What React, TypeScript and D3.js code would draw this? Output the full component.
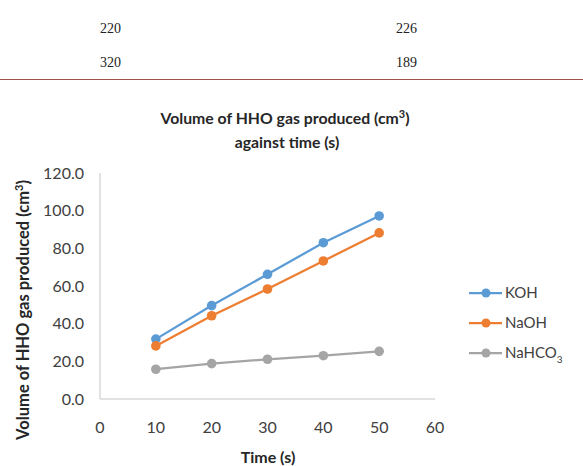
import React from 'react';
import * as d3 from 'd3';

// time points (s)
const times = [10, 20, 30, 40, 50];
// volume of HHO gas produced (cm3) per electrolyte
const kohValues = [31.8, 49.6, 66.2, 83.0, 97.2];
const naohValues = [28.2, 44.2, 58.4, 73.3, 88.2];
const nahco3Values = [15.8, 18.8, 21.1, 23.0, 25.3];

const seriesNames = ['KOH', 'NaOH', 'NaHCO3'];
const seriesColors = ['#5B9BD5', '#ED7D31', '#A5A5A5'];

const xTicks = [0, 10, 20, 30, 40, 50, 60];
const yTicks = [0, 20, 40, 60, 80, 100, 120];

// rows of the table above the figure
const tableRows = [
  ['220', '226'],
  ['320', '189'],
];

const W = 583;
const H = 466;
const FONT = 'Lato, "Open Sans", sans-serif';

const App = () => {
  const x = d3.scaleLinear().domain([0, 60]).range([100, 435]);
  const y = d3.scaleLinear().domain([0, 120]).range([399, 173]);

  const series = [kohValues, naohValues, nahco3Values].map((vals, i) => ({
    name: seriesNames[i],
    color: seriesColors[i],
    points: times.map((t, j) => [t, vals[j]] as [number, number]),
  }));

  const line = d3.line<[number, number]>()
    .x(d => x(d[0]))
    .y(d => y(d[1]));

  const legendY = d3.scalePoint<string>().domain(seriesNames).range([293, 353]);

  return (
    <svg width={W} height={H} style={{ position: 'absolute', left: 0, top: 0, background: '#fff' }}>
      {/* table tail */}
      {tableRows.map((row, i) => (
        <g key={i} fontFamily='"Liberation Serif", "Times New Roman", serif' fontSize={14} fill="#222">
          <text x={100} y={33 + i * 34}>{row[0]}</text>
          <text x={396} y={33 + i * 34}>{row[1]}</text>
        </g>
      ))}
      <line x1={0} x2={W} y1={79.5} y2={79.5} stroke="#A0524C" strokeWidth={1.2} />

      {/* title */}
      <text x={285} y={124} textAnchor="middle" fontFamily={FONT} fontWeight={700} fontSize={15.8} fill="#262626">
        Volume of HHO gas produced  (cm
        <tspan fontSize={11} dy={-6}>3</tspan>
        <tspan dy={6}>)</tspan>
      </text>
      <text x={287} y={148} textAnchor="middle" fontFamily={FONT} fontWeight={700} fontSize={15.8} fill="#262626">
        against time (s)
      </text>

      {/* axes */}
      <line x1={x(0)} x2={x(0)} y1={y(120)} y2={y(0)} stroke="#D9D9D9" strokeWidth={1.5} />
      <line x1={x(0)} x2={x(60)} y1={y(0)} y2={y(0)} stroke="#D9D9D9" strokeWidth={1.5} />

      {yTicks.map(t => (
        <text key={t} x={84} y={y(t)} dy="0.35em" textAnchor="end" fontFamily={FONT} fontSize={16} fill="#404040">
          {d3.format('.1f')(t)}
        </text>
      ))}
      {xTicks.map(t => (
        <text key={t} x={x(t)} y={427} dy="0.35em" textAnchor="middle" fontFamily={FONT} fontSize={16} fill="#404040">
          {t}
        </text>
      ))}

      <text transform="translate(29,310) rotate(-90)" textAnchor="middle" fontFamily={FONT} fontWeight={700} fontSize={16.5} fill="#262626">
        Volume of HHO gas produced (cm
        <tspan fontSize={11} dy={-6}>3</tspan>
        <tspan dy={6}>)</tspan>
      </text>
      <text x={268} y={463} textAnchor="middle" fontFamily={FONT} fontWeight={700} fontSize={16} fill="#262626">
        Time (s)
      </text>

      {/* series */}
      {series.map(s => (
        <g key={s.name}>
          <path d={line(s.points) ?? ''} fill="none" stroke={s.color} strokeWidth={2.25} />
          {s.points.map((p, j) => (
            <circle key={j} cx={x(p[0])} cy={y(p[1])} r={4.8} fill={s.color} />
          ))}
        </g>
      ))}

      {/* legend */}
      {series.map(s => {
        const ly = legendY(s.name) ?? 0;
        return (
          <g key={s.name}>
            <line x1={469} x2={502} y1={ly} y2={ly} stroke={s.color} strokeWidth={2.25} />
            <circle cx={486} cy={ly} r={4.5} fill={s.color} />
            <text x={505} y={ly} dy="0.35em" fontFamily={FONT} fontSize={15} fill="#404040">
              {s.name === 'NaHCO3' ? (
                <>NaHCO<tspan fontSize={10} dy={5}>3</tspan></>
              ) : s.name}
            </text>
          </g>
        );
      })}
    </svg>
  );
};

export default App;
